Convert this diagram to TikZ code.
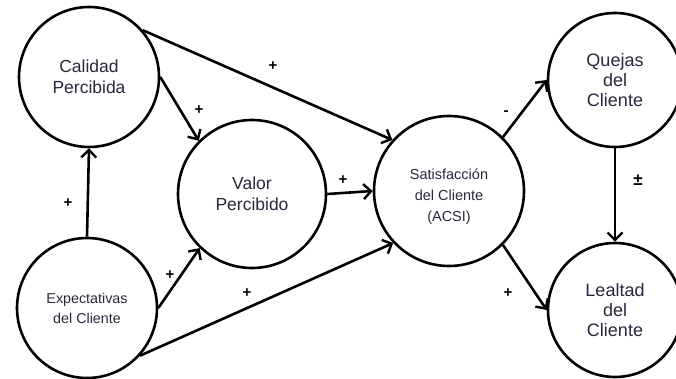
\documentclass[tikz,border=0pt]{standalone}
\usepackage{fontspec}
\setmainfont{Liberation Sans}
\usepackage{tikz}
\usetikzlibrary{arrows.meta}

\definecolor{txtcol}{RGB}{40,40,60}

\begin{document}
\begin{tikzpicture}[x=1pt,y=-1pt,
  construct/.style={draw,circle,line width=2.6pt,inner sep=0pt,align=center,text=txtcol},
  link/.style={line width=2.6pt,-{Straight Barb[length=7.5pt,width=15pt,line width=2.4pt]}},
  sign/.style={font=\bfseries\fontsize{15}{15}\selectfont,inner sep=0pt}]
\useasboundingbox (0,0) rectangle (676,379);
% constructs
\node[construct,minimum size=140pt,font=\fontsize{17.5}{21}\selectfont] (cal) at (89,77) {Calidad\\Percibida};
\node[construct,minimum size=140pt,font=\fontsize{14.3}{20}\selectfont] (exp) at (87,308) {Expectativas\\del Cliente};
\node[construct,minimum size=148pt,font=\fontsize{17.5}{21}\selectfont] (val) at (252,194) {Valor\\Percibido};
\node[construct,minimum size=150pt,
  label={[yshift=-6pt,align=center,text=txtcol,font=\fontsize{14.5}{21}\selectfont]center:Satisfacción\\del Cliente\\(ACSI)}] (sat) at (449,191) {};
\node[construct,minimum size=134pt,font=\fontsize{18}{20}\selectfont] (que) at (615,80) {Quejas\\del\\Cliente};
\node[construct,minimum size=134pt,font=\fontsize{18}{20}\selectfont] (lea) at (615,310) {Lealtad\\del\\Cliente};
% relations
\draw[link] (exp.north) -- (cal.south);
\draw[link] (cal.east) -- (val.135);
\draw[link] (cal.41) -- (sat.138);
\draw[link] (exp.east) -- (val.226);
\draw[link] (exp.-42) -- (sat.223);
\draw[link] (val.east) -- (sat.west);
\draw[link] (sat.45) -- (que.180);
\draw[link] (sat.-45) -- (lea.180);
\draw[link] (que.south) -- (lea.north);
% signs
\node[sign] (s1) at (68,203) {+};
\node[sign] (s2) at (199,110) {+};
\node[sign] (s3) at (273,66) {+};
\node[sign] (s4) at (170,275) {+};
\node[sign] (s5) at (247,293) {+};
\node[sign] (s6) at (343,180) {+};
\node[sign] (s7) at (506,113) {-};
\node[sign] (s8) at (508,293) {+};
\node[sign,font=\bfseries\fontsize{17}{17}\selectfont] (s9) at (638,180) {±};
\end{tikzpicture}
\end{document}
